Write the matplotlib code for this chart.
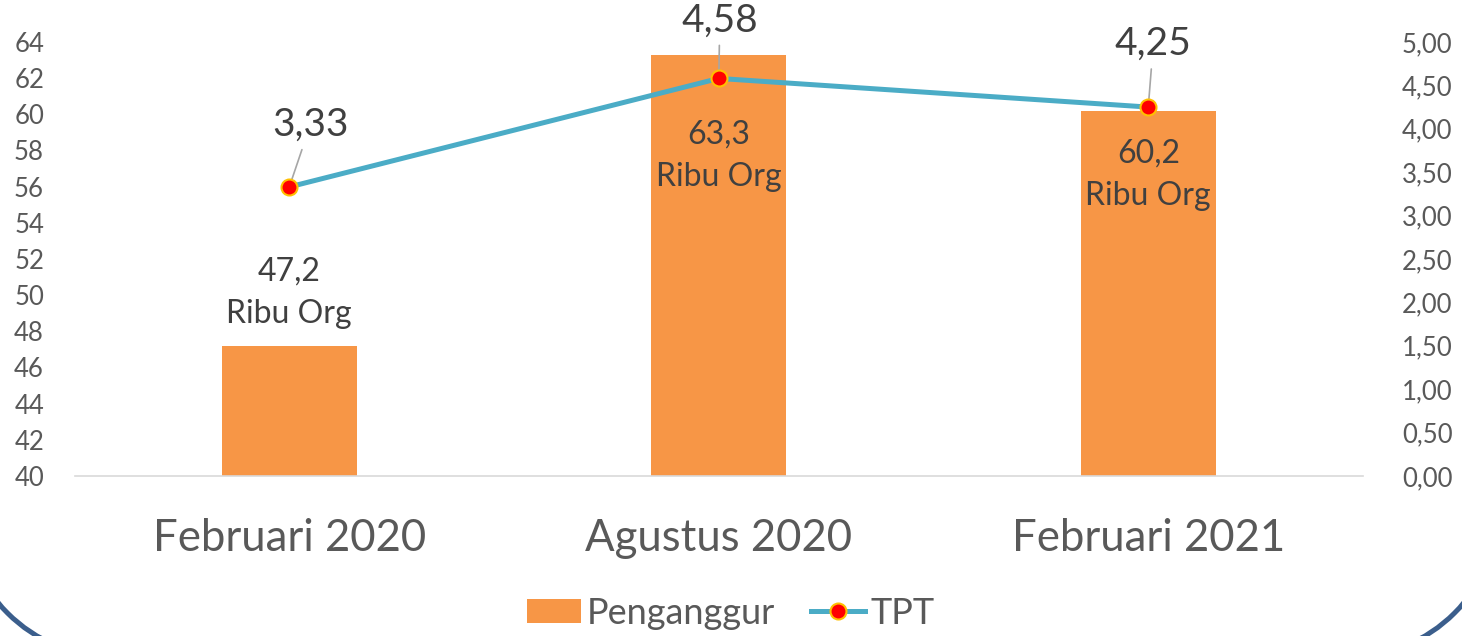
import matplotlib
matplotlib.use("Agg")
import matplotlib.pyplot as plt
from matplotlib.patches import Arc
from matplotlib.lines import Line2D
from matplotlib.patches import Patch
from matplotlib.transforms import Affine2D

plt.rcParams['font.family'] = ['Lato', 'DejaVu Sans']

# ===================== DATA =====================
kategori = ["Februari 2020", "Agustus 2020", "Februari 2021"]
penganggur = [47.2, 63.3, 60.2]
tpt = [3.33, 4.58, 4.25]
label_penganggur = ["47,2\nRibu Org", "63,3\nRibu Org", "60,2\nRibu Org"]
label_tpt = ["3,33", "4,58", "4,25"]
ticks_kiri = list(range(40, 65, 2))
ticks_kanan = [0, 0.5, 1, 1.5, 2, 2.5, 3, 3.5, 4, 4.5, 5]
ticks_kanan_label = ["0,00", "0,50", "1,00", "1,50", "2,00", "2,50", "3,00", "3,50", "4,00", "4,50", "5,00"]

cor_bar = "#F79646"
cor_linha = "#4BACC6"
cor_texto = "#404040"
cor_tick = "#595959"

fig = plt.figure(figsize=(14.62, 6.36), dpi=100)
ax = fig.add_axes([0.051, 0.2516, 0.8813, 0.6824])
ax2 = ax.twinx()

x = list(range(len(kategori)))
ax.bar(x, penganggur, width=0.314, color=cor_bar, zorder=2)
ax.set_xlim(-0.5, 2.5)
ax.set_ylim(40, 64)
ax.set_yticks(ticks_kiri)
ax.set_xticks(x)
ax.set_xticklabels(kategori, fontsize=31.5, color=cor_tick)
ax.tick_params(axis='x', length=0, pad=30)
ax.tick_params(axis='y', length=0, labelsize=18.5, labelcolor=cor_tick, pad=22)
for s in ["top", "left", "right"]:
    ax.spines[s].set_visible(False)
ax.spines["bottom"].set_color("#D9D9D9")
ax.spines["bottom"].set_linewidth(1.2)

# label batang
offsets_bar = [53, -101, -64]
for i, v in enumerate(penganggur):
    ax.annotate(label_penganggur[i], (i, v), xytext=(0, offsets_bar[i]),
                textcoords="offset pixels", ha="center", va="center",
                fontsize=23, color=cor_texto, linespacing=1.55, zorder=5)

# garis TPT
ax2.plot(x, tpt, color=cor_linha, linewidth=3.6, marker='o', markersize=11.5,
         markerfacecolor="#FF0000", markeredgecolor="#FFC000", markeredgewidth=1.5, zorder=4)
ax2.set_ylim(0, 5)
ax2.set_yticks(ticks_kanan)
ax2.set_yticklabels(ticks_kanan_label)
ax2.tick_params(axis='y', length=0, labelsize=18.5, labelcolor=cor_tick, pad=28)
for s in ["top", "left", "right", "bottom"]:
    ax2.spines[s].set_visible(False)

offsets_tpt = [(21, 62), (1, 58), (5, 63)]
for i, v in enumerate(tpt):
    ax2.annotate(label_tpt[i], (i, v), xytext=offsets_tpt[i],
                 textcoords="offset pixels", ha="center", va="center",
                 fontsize=28, color=cor_texto,
                 arrowprops=dict(arrowstyle='-', color="#A6A6A6", lw=1.2,
                                 shrinkA=3, shrinkB=0), zorder=3)

# legenda
handles = [Patch(facecolor=cor_bar, edgecolor="none"),
           Line2D([0], [0], color=cor_linha, linewidth=3.6, marker='o', markersize=11.5,
                  markerfacecolor="#FF0000", markeredgecolor="#FFC000", markeredgewidth=1.5)]
fig.legend(handles, ["Penganggur", "TPT"], loc="center", bbox_to_anchor=(0.5, 0.036),
           ncol=2, frameon=False, fontsize=26, labelcolor=cor_tick,
           handlelength=1.5, handletextpad=0.15, columnspacing=1.0, handleheight=0.67)

# bingkai: hanya sudut bawah yang terlihat
W, H = 1462, 636
piksel = Affine2D().scale(1 / W, 1 / H) + fig.transFigure
r = 150
for cx, t1, t2 in [(113.6, 180, 270), (W - 113.6, 270, 360)]:
    busur = Arc((cx, 129), 2 * r, 2 * r, theta1=t1, theta2=t2,
                transform=piksel, color="#3B5E8C", linewidth=3.6)
    fig.patches.append(busur)

fig.savefig("out.png", dpi=100)
